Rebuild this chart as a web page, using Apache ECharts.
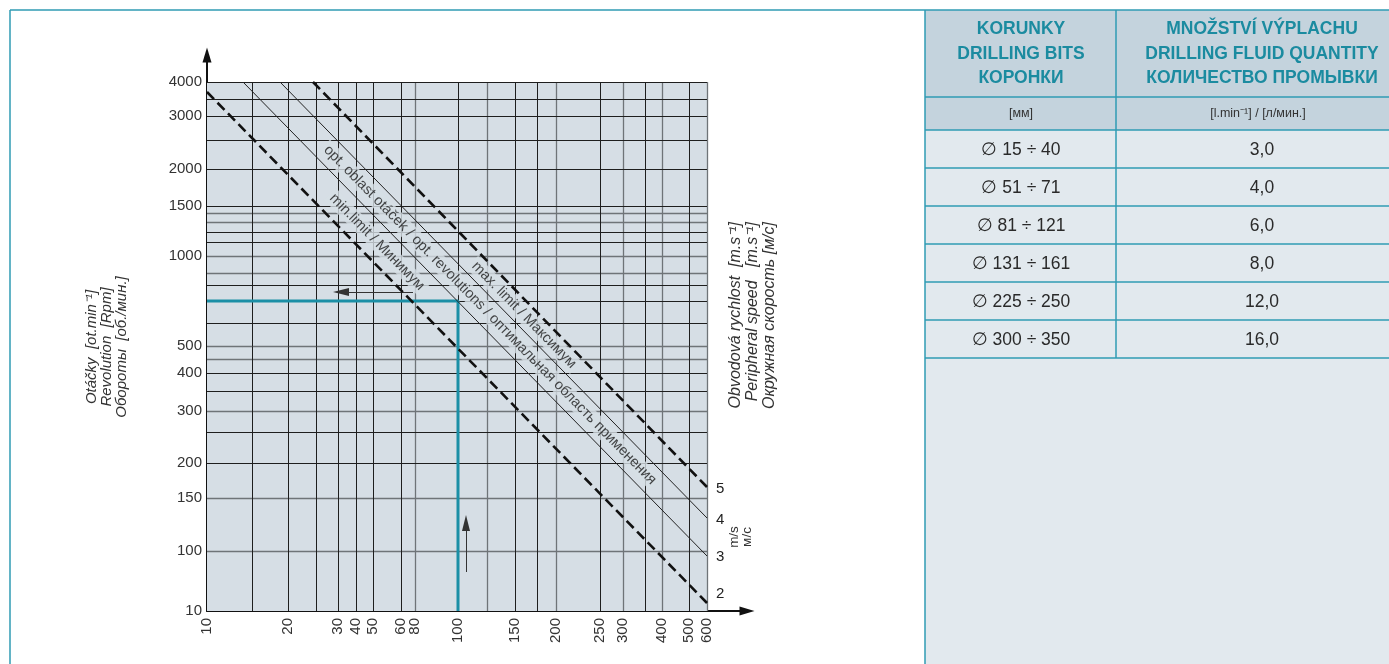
<!DOCTYPE html>
<html>
<head>
<meta charset="utf-8">
<title>Otáčky korunek / Drilling bits revolutions</title>
<script src="https://cdn.jsdelivr.net/npm/echarts@6/dist/echarts.min.js"></script>
<style>
  html, body { margin: 0; padding: 0; background: #fff; }
  #chart { width: 1389px; height: 664px; }
</style>
</head>
<body>
<div id="chart"></div>
<script>
// the sheet's scales are neither linear nor log, so both axes run in chart units
// and every tick label sits where it sits on the original nomogram
const xTickPos = [0, 81, 131, 149, 166, 194, 208, 251, 308, 349, 393, 416, 455, 482, 500];
const xTickLabels = ['10', '20', '30', '40', '50', '60', '80', '100', '150', '200', '250', '300', '400', '500', '600'];
const yTickPos = [0, 60, 113, 148, 200, 238, 265, 355, 405, 442, 495, 529];
const yTickLabels = ['10', '100', '150', '200', '300', '400', '500', '1000', '1500', '2000', '3000', '4000'];

// grid lines (darker / lighter ones)
const xGridDark = [45, 81, 109, 131, 149, 166, 194, 251, 308, 330, 393, 438, 482];
const xGridLight = [208, 280, 349, 416, 455, 500];
const yGridDark = [529, 512, 495, 471, 442, 405, 379, 369, 326, 310, 288, 238, 220, 179, 148];
const yGridLight = [398, 389, 355, 338, 265, 252, 200, 113, 60];

// peripheral speed lines [m/s]
const speedLabels = ['2', '3', '4', '5'];
const speedStart = [[0, 519], [36, 529], [73, 529], [106, 529]];
const speedEnd = [[500, 8], [500, 55], [500, 93], [500, 124]];

// zone captions, placed between the speed lines
const zoneNames = ['min.limit / Минимум',
  'opt. oblast otáček / opt. revolutions / оптимальная область применения',
  'max. limit / Максимум'];
const zoneAnchor = [[170, 369], [283, 296], [317, 296]];

// reading example: 100 mm bit -> revolutions
const examplePath = [[0, 310], [251, 310], [251, 0]];
const readArrow = [[206, 319], [134, 319]];
const liftArrow = [[259, 39], [259, 88]];

// table
const headBits = ['KORUNKY', 'DRILLING BITS', 'КОРОНКИ'];
const headFluid = ['MNOŽSTVÍ VÝPLACHU', 'DRILLING FLUID QUANTITY', 'КОЛИЧЕСТВО ПРОМЫВКИ'];
const unitBits = '[мм]';
const unitFluid = '[l.min⁻¹] / [л/мин.]';
const bitRanges = ['∅ 15 ÷ 40', '∅ 51 ÷ 71', '∅ 81 ÷ 121', '∅ 131 ÷ 161', '∅ 225 ÷ 250', '∅ 300 ÷ 350'];
const fluidQty = ['3,0', '4,0', '6,0', '8,0', '12,0', '16,0'];

const FONT = '"Liberation Sans", Arial, Helvetica, sans-serif';
const PLOT_BG = '#d6dee5';
const TEAL = '#1b8fa6';
const BORDER = '#2f9bb3';

const xEnd = xTickPos[xTickPos.length - 1];
const yEnd = yTickPos[yTickPos.length - 1];

const chart = echarts.init(document.getElementById('chart'));

const vLines = xs => xs.map(x => [{ coord: [x, 0] }, { coord: [x, yEnd] }]);
const hLines = ys => ys.map(y => [{ coord: [0, y] }, { coord: [xEnd, y] }]);

function gridLines(data, color, width) {
  return {
    type: 'line', data: [], z: 2, silent: true,
    markLine: {
      silent: true, z: 2, symbol: 'none', label: { show: false },
      lineStyle: { color: color, width: width, type: 'solid' },
      emphasis: { disabled: true },
      data: data
    }
  };
}

const speedSeries = speedLabels.map((lab, i) => {
  const limit = i === 0 || i === speedLabels.length - 1;
  const shift = [-9, 1, 2, 2][i];
  return {
    type: 'line', z: 6, silent: true, symbol: 'none',
    data: [speedStart[i], speedEnd[i]],
    lineStyle: limit
      ? { color: '#111', width: 2.6, type: [10, 5] }
      : { color: '#222', width: 1, type: 'solid' },
    endLabel: {
      show: true, formatter: lab, distance: 9, offset: [0, shift],
      color: '#222', fontFamily: FONT, fontSize: 15
    }
  };
});

// table built from the arrays
const T = { left: 925, split: 1116, right: 1389, top: 10, head: 97, units: 130, row: 38, bottom: 664 };
const colBits = 1021, colFluid = 1262;
const tbl = [];
tbl.push({ type: 'rect', shape: { x: T.left, y: T.top, width: T.right - T.left, height: T.bottom - T.top }, style: { fill: '#e2e9ee' } });
tbl.push({ type: 'rect', shape: { x: T.left, y: T.top, width: T.right - T.left, height: T.units - T.top }, style: { fill: '#c4d3dd' } });
const rowLines = [T.head, T.units].concat(bitRanges.map((_, i) => T.units + T.row * (i + 1)));
rowLines.forEach(y => tbl.push({ type: 'line', shape: { x1: T.left, y1: y, x2: T.right, y2: y }, style: { stroke: BORDER, lineWidth: 1.5 } }));
tbl.push({ type: 'line', shape: { x1: T.split, y1: T.top, x2: T.split, y2: rowLines[rowLines.length - 1] }, style: { stroke: BORDER, lineWidth: 1.5 } });
// frame
tbl.push({ type: 'line', shape: { x1: 10, y1: T.top, x2: T.right, y2: T.top }, style: { stroke: BORDER, lineWidth: 1.5 } });
tbl.push({ type: 'line', shape: { x1: 10, y1: T.top, x2: 10, y2: T.bottom }, style: { stroke: BORDER, lineWidth: 1.5 } });
tbl.push({ type: 'line', shape: { x1: T.left, y1: T.top, x2: T.left, y2: T.bottom }, style: { stroke: BORDER, lineWidth: 1.5 } });

const headStyle = { fill: '#1b8ba0', fontFamily: FONT, fontWeight: 'bold', fontSize: 17.5, lineHeight: 24.5, align: 'center', verticalAlign: 'middle' };
tbl.push({ type: 'text', x: colBits, y: 54, style: Object.assign({ text: headBits.join('\n') }, headStyle) });
tbl.push({ type: 'text', x: colFluid, y: 54, style: Object.assign({ text: headFluid.join('\n') }, headStyle) });
const unitStyle = { fill: '#333', fontFamily: FONT, fontSize: 12.5, align: 'center', verticalAlign: 'middle' };
tbl.push({ type: 'text', x: colBits, y: 114, style: Object.assign({ text: unitBits }, unitStyle) });
tbl.push({ type: 'text', x: 1258, y: 114, style: Object.assign({ text: unitFluid }, unitStyle) });
const cellStyle = { fill: '#2a2a2a', fontFamily: FONT, fontSize: 17.5, align: 'center', verticalAlign: 'middle' };
bitRanges.forEach((b, i) => {
  const y = T.units + T.row * i + T.row / 2 + 1;
  tbl.push({ type: 'text', x: colBits, y: y, style: Object.assign({ text: b }, cellStyle) });
  tbl.push({ type: 'text', x: colFluid, y: y, style: Object.assign({ text: fluidQty[i] }, cellStyle) });
});

// axis titles
const titleStyle = { fill: '#333', fontFamily: FONT, fontStyle: 'italic', verticalAlign: 'middle' };
tbl.push({
  type: 'text', x: 107, y: 347, rotation: Math.PI / 2,
  style: Object.assign({ text: 'Otáčky  [ot.min⁻¹]\nRevolution  [Rpm]\nОбороты  [об./мин.]', align: 'center', fontSize: 15, lineHeight: 15 }, titleStyle)
});
tbl.push({
  type: 'text', x: 753, y: 222, rotation: Math.PI / 2,
  style: Object.assign({ text: 'Obvodová rychlost  [m.s⁻¹]\nPeripheral speed   [m.s⁻¹]\nОкружная скорость [м/с]', align: 'right', fontSize: 16, lineHeight: 17 }, titleStyle)
});
tbl.push({
  type: 'text', x: 741, y: 537, rotation: Math.PI / 2,
  style: { text: 'm/s\nм/с', fill: '#333', fontFamily: FONT, fontSize: 13.5, lineHeight: 13, align: 'center', verticalAlign: 'middle' }
});

const option = {
  backgroundColor: '#fff',
  animation: false,
  grid: { left: 207, top: 55, width: 540, height: 556 },
  xAxis: {
    type: 'value', min: 0, max: 540,
    axisLine: { show: true, symbol: ['none', 'triangle'], symbolSize: [9, 15], lineStyle: { color: '#111', width: 2 } },
    axisTick: { show: false, customValues: xTickPos },
    splitLine: { show: false },
    axisLabel: {
      customValues: xTickPos, rotate: 90, margin: 7,
      color: '#333', fontFamily: FONT, fontSize: 15,
      formatter: v => xTickLabels[xTickPos.indexOf(v)]
    }
  },
  yAxis: {
    type: 'value', min: 0, max: 556,
    axisLine: { show: true, symbol: ['none', 'triangle'], symbolSize: [9, 15], lineStyle: { color: '#111', width: 2 } },
    axisTick: { show: false, customValues: yTickPos },
    splitLine: { show: false },
    axisLabel: {
      customValues: yTickPos, margin: 5,
      color: '#333', fontFamily: FONT, fontSize: 15,
      formatter: v => yTickLabels[yTickPos.indexOf(v)]
    }
  },
  graphic: tbl,
  series: [
    {
      type: 'line', data: [], z: 1, silent: true,
      markArea: {
        silent: true, z: 1, itemStyle: { color: PLOT_BG },
        data: [[{ coord: [0, 0] }, { coord: [xEnd, yEnd] }]]
      }
    },
    gridLines(vLines(xGridLight).concat(hLines(yGridLight)), '#6f7478', 1.3),
    gridLines(vLines(xGridDark).concat(hLines(yGridDark)), '#1e1e1e', 1),
    {
      type: 'scatter', z: 3, silent: true, symbolSize: 1,
      itemStyle: { color: 'transparent' },
      data: zoneNames.map((n, i) => ({ value: zoneAnchor[i], name: n })),
      label: {
        show: true, position: 'inside', formatter: '{b}', rotate: -45.6,
        color: '#1a1a1a', fontFamily: FONT, fontSize: 14.5,
        textBorderWidth: 0,
        backgroundColor: PLOT_BG, padding: [1, 3]
      }
    },
    {
      type: 'line', z: 4, silent: true, symbol: 'none',
      data: examplePath,
      lineStyle: { color: TEAL, width: 3 }
    },
    {
      type: 'line', data: [], z: 4, silent: true,
      markLine: {
        silent: true, z: 4, symbol: ['none', 'triangle'], symbolSize: [8, 16],
        label: { show: false }, emphasis: { disabled: true },
        lineStyle: { color: '#333', width: 1, type: 'solid' },
        data: [
          [{ coord: readArrow[0] }, { coord: readArrow[1] }],
          [{ coord: liftArrow[0] }, { coord: liftArrow[1] }]
        ]
      }
    }
  ].concat(speedSeries)
};

option && chart.setOption(option);
</script>
</body>
</html>
